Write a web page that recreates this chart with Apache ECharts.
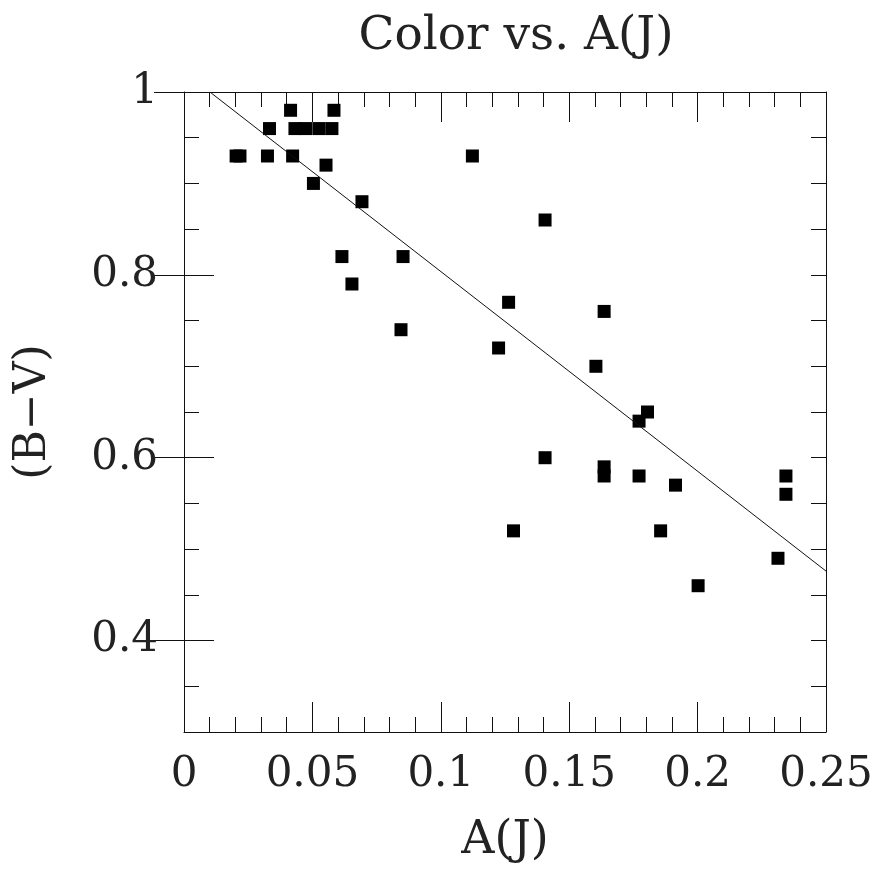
<!DOCTYPE html>
<html lang="en">
<head>
    <meta charset="UTF-8">
    <title>Color vs. A(J)</title>
    <style>
        html, body {
            margin: 0;
            padding: 0;
            background-color: #fff;
        }
    </style>
</head>
<body>
<div id="chart" style="width: 883px;height:869px;"></div>
<script src="https://cdn.jsdelivr.net/npm/echarts@6/dist/echarts.min.js"></script>
<script>
    // A(J) and (B-V) of each star
    var aJ = [0.0203, 0.0218, 0.0325, 0.0333, 0.0415, 0.0423, 0.0432, 0.0475, 0.0504, 0.0526,
        0.0553, 0.0576, 0.0584, 0.0615, 0.0654, 0.0693, 0.0845, 0.0853, 0.1123, 0.1225,
        0.1264, 0.1283, 0.1406, 0.1406, 0.1604, 0.1636, 0.1636, 0.1636, 0.1772, 0.1772,
        0.1805, 0.1856, 0.1914, 0.2002, 0.2313, 0.2344, 0.2344];
    var bv = [0.93, 0.93, 0.93, 0.96, 0.98, 0.93, 0.96, 0.96, 0.90, 0.96,
        0.92, 0.96, 0.98, 0.82, 0.79, 0.88, 0.74, 0.82, 0.93, 0.72,
        0.77, 0.52, 0.86, 0.60, 0.70, 0.76, 0.59, 0.58, 0.64, 0.58,
        0.65, 0.52, 0.57, 0.46, 0.49, 0.58, 0.56];
    // fitted line end points
    var fitX = [0.0101, 0.25];
    var fitY = [1.0, 0.476];
    // labelled ticks on the y axis
    var yLabelTicks = [0.4, 0.6, 0.8, 1];

    var font = 'DejaVu Serif';
    var fontSize = 42;
    var ink = '#111';
    var textInk = '#222';

    var points = aJ.map(function(x, i) {
        return [x, bv[i]];
    });
    var fit = fitX.map(function(x, i) {
        return [x, fitY[i]];
    });

    function xAxisCfg(pos, withLabels) {
        return {
            type: 'value',
            position: pos,
            min: 0,
            max: 0.25,
            interval: 0.05,
            axisLine: {show: true, onZero: false, lineStyle: {color: ink, width: 1}},
            axisTick: {show: true, inside: true, length: 30, lineStyle: {color: ink}},
            minorTick: {show: true, splitNumber: 5, length: 15, lineStyle: {color: ink}},
            splitLine: {show: false},
            minorSplitLine: {show: false},
            axisLabel: {
                show: withLabels,
                fontFamily: font,
                fontSize: fontSize,
                color: textInk,
                margin: 22
            },
            name: withLabels ? 'A(J)' : '',
            nameLocation: 'middle',
            nameGap: 86,
            nameTextStyle: {fontFamily: font, fontSize: 46, color: textInk}
        };
    }

    // short ticks every 0.05
    function yMinorCfg(pos, withName) {
        return {
            type: 'value',
            position: pos,
            min: 0.3,
            max: 1,
            interval: 0.05,
            axisLine: {show: true, onZero: false, lineStyle: {color: ink, width: 1}},
            axisTick: {show: true, inside: true, length: 15, lineStyle: {color: ink}},
            splitLine: {show: false},
            axisLabel: {show: false},
            name: withName ? '(B\u2212V)' : '',
            nameLocation: 'middle',
            nameRotate: 90,
            nameGap: 128,
            nameTextStyle: {fontFamily: font, fontSize: 44, color: textInk}
        };
    }

    // long ticks (and labels) every 0.2
    function yMajorCfg(pos, withLabels) {
        return {
            type: 'value',
            position: pos,
            min: 0.3,
            max: 1,
            axisLine: {show: false},
            axisTick: {show: true, inside: true, length: 30, customValues: yLabelTicks, lineStyle: {color: ink}},
            splitLine: {show: false},
            axisLabel: {
                show: withLabels,
                customValues: yLabelTicks,
                fontFamily: font,
                fontSize: fontSize,
                color: textInk,
                margin: 26
            }
        };
    }

    var chart = echarts.init(document.getElementById('chart'));
    var option = {
        backgroundColor: '#fff',
        animation: false,
        title: {
            text: 'Color vs. A(J)',
            left: 511,
            top: 8,
            textAlign: 'center',
            textStyle: {fontFamily: font, fontSize: 47, fontWeight: 'normal', color: textInk}
        },
        grid: {
            left: 184,
            right: 57,
            top: 92,
            bottom: 136,
            containLabel: false
        },
        xAxis: [xAxisCfg('bottom', true), xAxisCfg('top', false)],
        yAxis: [
            yMinorCfg('left', true),
            yMajorCfg('left', true),
            yMinorCfg('right', false),
            yMajorCfg('right', false)
        ],
        series: [
            {
                type: 'line',
                data: fit,
                xAxisIndex: 0,
                yAxisIndex: 0,
                symbol: 'none',
                lineStyle: {color: ink, width: 1},
                silent: true
            },
            {
                type: 'scatter',
                data: points,
                xAxisIndex: 0,
                yAxisIndex: 0,
                symbol: 'rect',
                symbolSize: 13,
                itemStyle: {color: '#000', opacity: 1}
            }
        ]
    };
    chart.setOption(option);
</script>
</body>
</html>
